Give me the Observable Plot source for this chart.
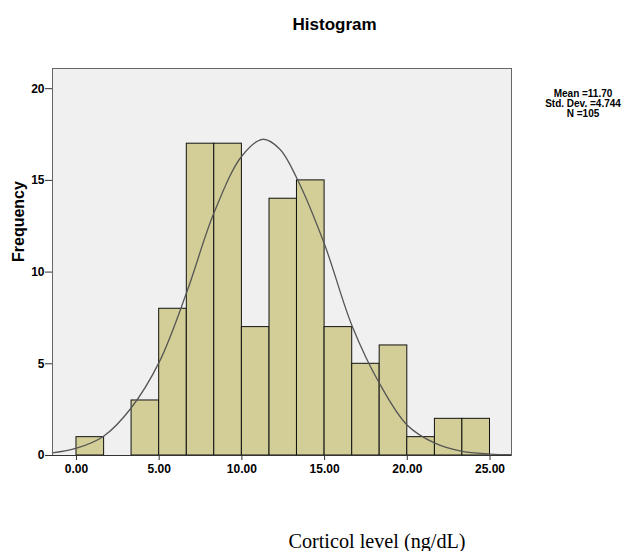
<!DOCTYPE html>
<html>
<head>
<meta charset="utf-8">
<script src="https://cdn.jsdelivr.net/npm/d3@7"></script>
<script src="https://cdn.jsdelivr.net/npm/@observablehq/plot@0.6"></script>
<style>
  html, body { margin: 0; padding: 0; background: #fff; }
  #chart svg { font-family: "Liberation Sans", Arial, sans-serif; font-weight: bold; display: block; }
</style>
</head>
<body>
<div id="chart"></div>
<script>
// Bin edges (ng/dL) and counts
const binEdges = [0, 1.67, 3.33, 5, 6.67, 8.33, 10, 11.67, 13.33, 15, 16.67, 18.33, 20, 21.67, 23.33, 25];
const counts   = [1, 0, 3, 8, 17, 17, 7, 14, 15, 7, 5, 6, 1, 2, 2];

// Normal curve points
const curveX = [-1.45, 0, 1.62, 3.27, 5, 6.67, 8.33, 10, 11.26, 12.3, 13.33, 15, 16.67, 18.33, 20, 21.67, 23.33, 25, 26.3];
const curveY = [0.14, 0.4, 1.04, 2.55, 5.09, 8.91, 13.27, 16.33, 17.24, 16.7, 15.1, 11.5, 7.05, 3.91, 1.65, 0.67, 0.22, 0.08, 0.04];

const xTicks = [0, 5, 10, 15, 20, 25];
const yTicks = [0, 5, 10, 15, 20];

const titleText = "Histogram";
const yLabel = "Frequency";
const xLabel = "Corticol level (ng/dL)";
const statsText = ["Mean =11.70", "Std. Dev. =4.744", "N =105"];

const bins = counts.map((c, i) => ({x1: binEdges[i], x2: binEdges[i + 1], y: c})).filter(d => d.y > 0);
const curve = curveX.map((x, i) => ({x, y: curveY[i]}));

const chart = Plot.plot({
  width: 640,
  height: 551,
  marginLeft: 52,
  marginRight: 129,
  marginTop: 68,
  marginBottom: 96,
  x: {domain: [-1.45, 26.3]},
  y: {domain: [0, 21.1]},
  marks: [
    Plot.frame({fill: "#f0f0f0", stroke: null}),
    Plot.rectY(bins, {x1: "x1", x2: "x2", y: "y", fill: "#d3ce97", stroke: "#111", strokeWidth: 1, inset: 0}),
    Plot.line(curve, {x: "x", y: "y", curve: "catmull-rom", stroke: "#555", strokeWidth: 1.3}),
    Plot.frame({stroke: "#666"}),
    Plot.ruleY([0], {stroke: "#333", strokeWidth: 1.2}),
    Plot.axisX({ticks: xTicks, tickFormat: d3.format(".2f"), tickSize: 5, tickPadding: 4, fontSize: 12, label: null, stroke: "#333"}),
    Plot.axisY({ticks: yTicks, tickFormat: d => String(d), tickSize: 7, tickPadding: 1, fontSize: 12, label: null, stroke: "#333"}),
    Plot.text([titleText], {frameAnchor: "top", dx: 52.6, dy: -44, fontSize: 17, fontWeight: "bold", lineAnchor: "middle", fill: "#000"}),
    Plot.text([yLabel], {frameAnchor: "left", dx: -34, rotate: -90, fontSize: 16, fontWeight: "bold", lineAnchor: "middle", fill: "#000"}),
    Plot.text([statsText.join("\n")], {frameAnchor: "top-right", dx: 71.5, dy: 35.5, textAnchor: "middle", lineAnchor: "middle", lineHeight: 1.02, fontSize: 10, fontWeight: "bold", fill: "#000"}),
    Plot.text([xLabel], {frameAnchor: "bottom", dx: 95, dy: 86, fontSize: 20.2, fontWeight: "normal", fontFamily: "Liberation Serif, Times New Roman, serif", lineAnchor: "middle", fill: "#000"})
  ]
});
document.getElementById("chart").appendChild(chart);
</script>
</body>
</html>
